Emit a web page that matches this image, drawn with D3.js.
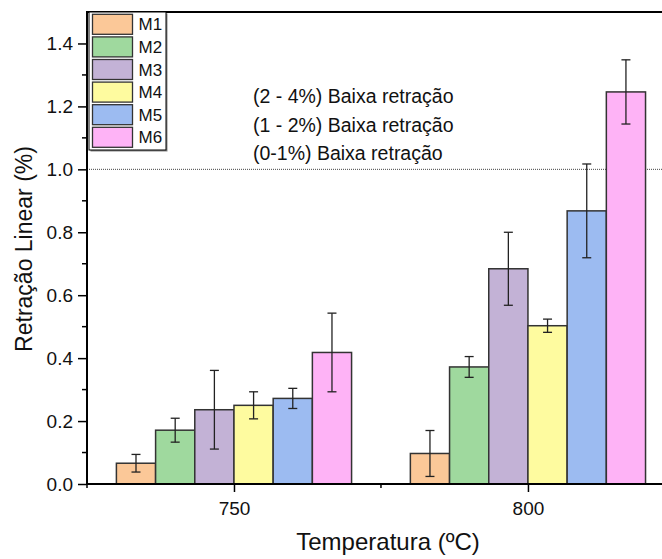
<!DOCTYPE html>
<meta charset="utf-8">
<style>
body { margin: 0; background: #fff; }
svg { font-family: "Liberation Sans", Arial, sans-serif; }
.axis path, .axis line { stroke: #000; }
.axis text { font-size: 19px; fill: #111; }
</style>
<svg width="662" height="559"></svg>
<script src="https://cdn.jsdelivr.net/npm/d3@7"></script>
<script>

// data
var temperatures = [750, 800];
var series = ["M1", "M2", "M3", "M4", "M5", "M6"];
var colors = ["#fbc898", "#9fd99e", "#c3b2d6", "#fefb9f", "#9cbbf1", "#feb3f6"];
var values750 = [0.066, 0.171, 0.236, 0.250, 0.272, 0.418];
var errors750 = [0.028, 0.038, 0.125, 0.043, 0.032, 0.125];
var values800 = [0.097, 0.372, 0.684, 0.503, 0.868, 1.246];
var errors800 = [0.073, 0.033, 0.116, 0.021, 0.149, 0.102];
var yTicks = [0.0, 0.2, 0.4, 0.6, 0.8, 1.0, 1.2, 1.4];
var notes = ["(2 - 4%) Baixa retração", "(1 - 2%) Baixa retração", "(0-1%) Baixa retração"];
var refLine = 1.0;

var svg = d3.select("svg"),
    pLeft = 87, pRight = 662, pTop = 12, pBottom = 484;

var x = d3.scaleLinear().domain([725, 822.8]).range([pLeft, pRight]);
var y = d3.scaleLinear().domain([0, 1.5]).range([pBottom, pTop]);

var groupWidth = 40; // in temperature units
var band = d3.scaleBand().domain(series).range([-groupWidth / 2, groupWidth / 2]);

var rows = [];
temperatures.forEach(function(t, ti) {
  var vals = ti ? values800 : values750,
      errs = ti ? errors800 : errors750;
  series.forEach(function(s, i) {
    rows.push({t: t, s: s, i: i, v: vals[i], e: errs[i]});
  });
});

// reference line
svg.append("line")
    .attr("x1", pLeft).attr("x2", pRight)
    .attr("y1", y(refLine)).attr("y2", y(refLine))
    .attr("stroke", "#444")
    .attr("stroke-width", 1)
    .attr("stroke-dasharray", "1,1");

// bars
svg.append("g").selectAll("rect")
  .data(rows)
  .enter().append("rect")
    .attr("x", function(d) { return x(d.t + band(d.s)); })
    .attr("width", function(d) { return x(d.t + band(d.s) + band.bandwidth()) - x(d.t + band(d.s)); })
    .attr("y", function(d) { return y(d.v); })
    .attr("height", function(d) { return y(0) - y(d.v); })
    .attr("fill", function(d) { return colors[d.i]; })
    .attr("stroke", "#333")
    .attr("stroke-width", 1.5);

// error bars
var eb = svg.append("g").selectAll("g")
  .data(rows)
  .enter().append("g")
    .attr("stroke", "#222")
    .attr("stroke-width", 1.3)
    .attr("transform", function(d) {
      return "translate(" + x(d.t + band(d.s) + band.bandwidth() / 2) + ",0)";
    });
eb.append("line")
    .attr("y1", function(d) { return y(d.v - d.e); })
    .attr("y2", function(d) { return y(d.v + d.e); });
eb.append("line")
    .attr("x1", -4.5).attr("x2", 4.5)
    .attr("y1", function(d) { return y(d.v + d.e); })
    .attr("y2", function(d) { return y(d.v + d.e); });
eb.append("line")
    .attr("x1", -4.5).attr("x2", 4.5)
    .attr("y1", function(d) { return y(d.v - d.e); })
    .attr("y2", function(d) { return y(d.v - d.e); });

// axes
var yAxis = svg.append("g")
    .attr("class", "axis")
    .attr("transform", "translate(" + pLeft + ",0)")
    .call(d3.axisLeft(y).tickValues(yTicks).tickFormat(d3.format(".1f")).tickSize(9).tickPadding(5));
yAxis.select(".domain").remove();
yAxis.selectAll(".tick line").attr("stroke-width", 1.5);

svg.append("g")
    .attr("transform", "translate(" + pLeft + ",0)")
    .selectAll("line")
  .data(d3.range(0.1, 1.5, 0.2))
  .enter().append("line")
    .attr("x1", -5).attr("x2", 0)
    .attr("y1", function(d) { return y(d); })
    .attr("y2", function(d) { return y(d); })
    .attr("stroke", "#000")
    .attr("stroke-width", 1.5);

var xAxis = svg.append("g")
    .attr("class", "axis")
    .attr("transform", "translate(0," + pBottom + ")")
    .call(d3.axisBottom(x).tickValues(temperatures).tickSize(8).tickPadding(10));
xAxis.select(".domain").remove();
xAxis.selectAll(".tick line").attr("stroke-width", 1.5);

svg.append("g")
    .attr("transform", "translate(0," + pBottom + ")")
    .selectAll("line")
  .data([725, 775])
  .enter().append("line")
    .attr("x1", function(d) { return x(d); })
    .attr("x2", function(d) { return x(d); })
    .attr("y1", 0).attr("y2", 4)
    .attr("stroke", "#000")
    .attr("stroke-width", 1.5);

// frame: left, bottom, top
svg.append("path")
    .attr("d", "M" + pRight + "," + pTop + "H" + pLeft + "V" + pBottom + "H" + pRight)
    .attr("fill", "none")
    .attr("stroke", "#000")
    .attr("stroke-width", 2);

// axis titles
svg.append("text")
    .attr("x", 388).attr("y", 550)
    .attr("text-anchor", "middle")
    .attr("font-size", 24)
    .attr("fill", "#111")
    .text("Temperatura (ºC)");

svg.append("text")
    .attr("transform", "translate(32,249) rotate(-90)")
    .attr("text-anchor", "middle")
    .attr("font-size", 23)
    .attr("fill", "#111")
    .text("Retração Linear (%)");

// notes
svg.append("g").selectAll("text")
  .data(notes)
  .enter().append("text")
    .attr("x", 253)
    .attr("y", function(d, i) { return 103 + i * 28.5; })
    .attr("font-size", 19.5)
    .attr("fill", "#111")
    .text(function(d) { return d; });

// legend
var legend = svg.append("g").attr("transform", "translate(89,12)");
legend.append("rect")
    .attr("x", 1.5).attr("y", 1.5)
    .attr("width", 77).attr("height", 138)
    .attr("fill", "#888");
legend.append("rect")
    .attr("width", 77).attr("height", 138)
    .attr("fill", "#fff")
    .attr("stroke", "#000")
    .attr("stroke-width", 1);
var item = legend.selectAll(".item")
  .data(series)
  .enter().append("g")
    .attr("class", "item")
    .attr("transform", function(d, i) { return "translate(3.5," + (2.3 + i * 22.6) + ")"; });
item.append("rect")
    .attr("width", 40).attr("height", 20)
    .attr("fill", function(d, i) { return colors[i]; })
    .attr("stroke", "#333")
    .attr("stroke-width", 1.3);
item.append("text")
    .attr("x", 46).attr("y", 16)
    .attr("font-size", 17)
    .attr("fill", "#111")
    .text(function(d) { return d; });

</script>
